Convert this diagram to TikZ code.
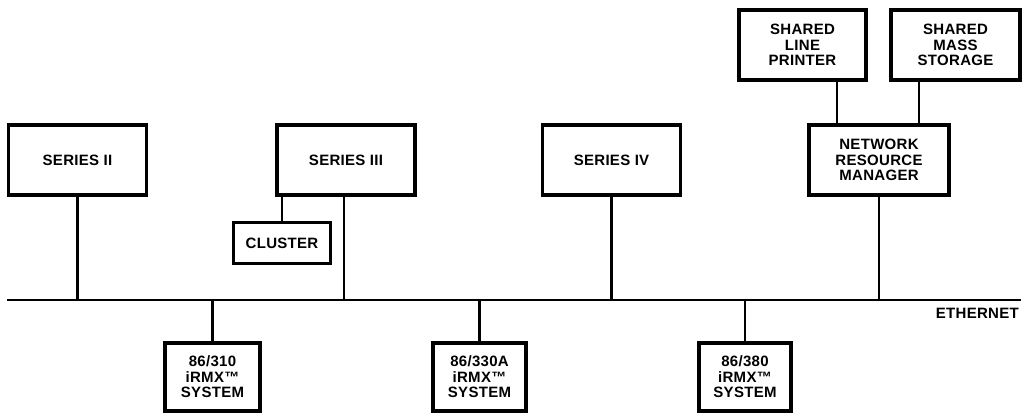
\documentclass[tikz,border=0pt]{standalone}
\usepackage{fontspec}
\setmainfont{Liberation Sans}
\newfontfamily\lab[LetterSpace=2]{Liberation Sans}
\begin{document}
\begin{tikzpicture}[x=1pt,y=-1pt,
  box/.style={draw, line width=3.8pt, align=center, inner sep=0pt,
    font=\lab\bfseries\fontsize{15}{15.6}\selectfont},
  wire/.style={line width=2.6pt},
  bus/.style={line width=2.8pt}]
\useasboundingbox (0,0) rectangle (1024,415);
% top row
\node[box, minimum width=138pt, minimum height=70pt] (s2) at (77.5,160) {SERIES II};
\node[box, minimum width=138pt, minimum height=70pt] (s3) at (346,160) {SERIES III};
\node[box, minimum width=97pt, minimum height=41pt] (clu) at (282,243) {CLUSTER};
\node[box, minimum width=138pt, minimum height=70pt] (s4) at (611.5,160) {SERIES IV};
\node[box, minimum width=140pt, minimum height=70pt] (nrm) at (879,160) {NETWORK\\RESOURCE\\MANAGER};
\node[box, minimum width=127pt, minimum height=70pt] (prn) at (802.5,45) {SHARED\\LINE\\PRINTER};
\node[box, minimum width=129pt, minimum height=70pt] (sto) at (955.5,45) {SHARED\\MASS\\STORAGE};
% bottom row
\node[box, minimum width=95pt, minimum height=68pt] (b1) at (212.5,377) {86/310\\iRMX™\\SYSTEM};
\node[box, minimum width=93pt, minimum height=68pt] (b2) at (479.5,377) {86/330A\\iRMX™\\SYSTEM};
\node[box, minimum width=92pt, minimum height=68pt] (b3) at (745,377) {86/380\\iRMX™\\SYSTEM};
% ethernet
\coordinate (ethL) at (7,300);
\coordinate (ethR) at (1021,300);
\draw[bus] (ethL) -- (ethR);
\node[font=\lab\bfseries\fontsize{15}{15.6}\selectfont, anchor=north east, inner sep=0pt] (ethlab) at (1019,308) {ETHERNET};
% connectors
\draw[wire] (s2.south) -- (s2.south |- ethL);
\draw[wire] ([xshift=-2pt]s3.south) -- ([xshift=-2pt]s3.south |- ethL);
\draw[wire] (clu.north) -- (clu.north |- s3.south);
\draw[wire] (s4.south) -- (s4.south |- ethL);
\draw[wire] (nrm.south) -- (nrm.south |- ethL);
\draw[wire] ([xshift=34.5pt]prn.south) -- ([xshift=34.5pt]prn.south |- nrm.north);
\draw[wire] ([xshift=-36.5pt]sto.south) -- ([xshift=-36.5pt]sto.south |- nrm.north);
\draw[wire] (b1.north) -- (b1.north |- ethL);
\draw[wire] (b2.north) -- (b2.north |- ethL);
\draw[wire] (b3.north) -- (b3.north |- ethL);
\end{tikzpicture}
\end{document}
